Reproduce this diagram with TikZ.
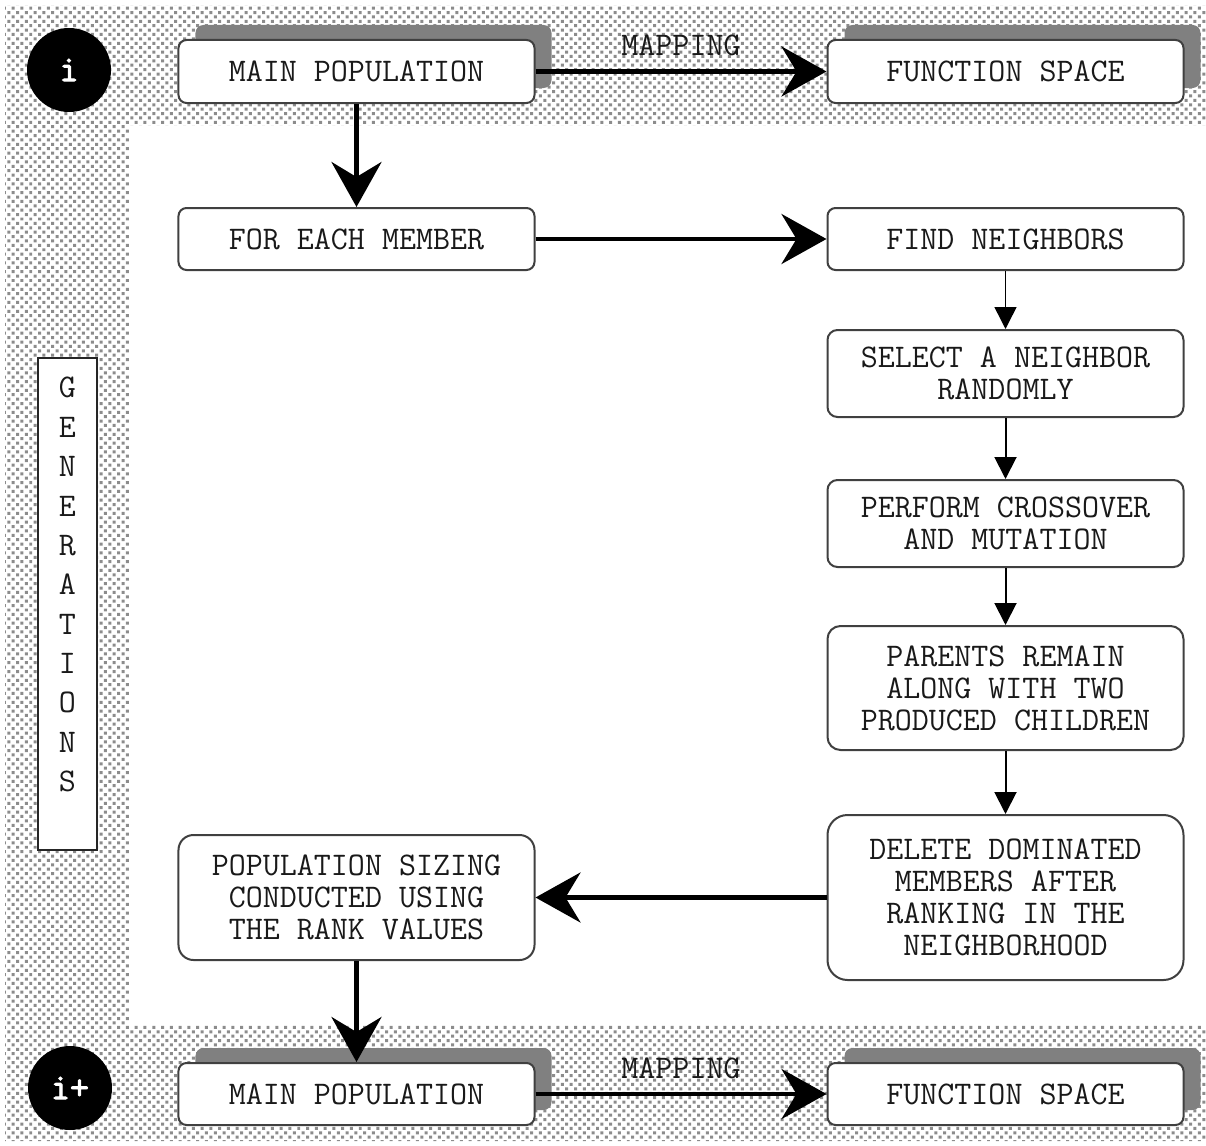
\documentclass[tikz,border=0pt]{standalone}
\usepackage{fontspec}
\usepackage{tikz}
\usetikzlibrary{arrows.meta,patterns,shadows,positioning}
\newcommand\boxfont{\ttfamily}
\newfontfamily\circfont{Latin Modern Mono}[FakeBold=2.5]

\pgfdeclarepatternformonly{gendots}{\pgfqpoint{-1pt}{-1pt}}{\pgfqpoint{4pt}{4pt}}{\pgfqpoint{5pt}{5pt}}{%
  \pgfpathrectangle{\pgfqpoint{-0.85pt}{-0.85pt}}{\pgfqpoint{1.7pt}{1.7pt}}%
  \pgfpathrectangle{\pgfqpoint{1.65pt}{1.65pt}}{\pgfqpoint{1.7pt}{1.7pt}}%
  \pgfusepath{fill}}

\tikzset{
  stage/.style={draw=black!75, line width=0.4mm, fill=white, rounded corners=1.6mm, align=center,
    inner sep=0pt, minimum width=71.2mm, text=black!90, font=\boxfont\fontsize{18.8}{18.2}\selectfont},
  shadowed/.style={drop shadow={shadow xshift=3.4mm, shadow yshift=3mm, fill=black!50, opacity=1}},
  bigflow/.style={line width=0.9mm, -{Stealth[length=9mm, width=10mm, inset=3mm]}},
  thinflow/.style={line width=0.3mm, -{Triangle[length=4.4mm, width=4.4mm]}},
  maplabel/.style={inner sep=0pt, text=black!90, font=\boxfont\fontsize{18.8}{18.2}\selectfont},
  gencircle/.style={circle, fill=black, text=white, minimum size=16.8mm, inner sep=0pt,
    font=\circfont\bfseries\fontsize{21}{20}\selectfont},
  genbox/.style={draw=black!85, line width=0.4mm, fill=white, minimum width=11.8mm, minimum height=98.4mm, inner sep=0pt},
  gentext/.style={align=center, inner sep=0pt, text=black!90, font=\boxfont\fontsize{18.8}{22.4}\selectfont},
}

\begin{document}
\begin{tikzpicture}[x=0.2mm,y=-0.2mm]
  \useasboundingbox (0,0) rectangle (1206,1146);
  % dotted frame round the loop
  \fill[pattern=gendots, pattern color=black!45] (5,5) -| (1206,125) -| (130,1025) -| (1206,1141) -| cycle;

  % generation i
  \node[gencircle] (genA) at (69,70) {i};
  \node[stage, shadowed, minimum height=12.6mm] (popA) at (356.5,71.5) {MAIN POPULATION};
  \node[stage, shadowed, minimum height=12.6mm] (funcA) at (1005.5,71.5) {FUNCTION SPACE};

  % steps
  \node[stage, minimum height=12.4mm] (each) at (356.5,239) {FOR EACH MEMBER};
  \node[stage, minimum height=12.4mm] (nbrs) at (1005.5,239) {FIND NEIGHBORS};
  \node[stage, minimum height=17.4mm, rounded corners=2mm] (pick) at (1005.5,373.5) {SELECT A NEIGHBOR\\RANDOMLY};
  \node[stage, minimum height=17.4mm, rounded corners=2mm] (mix) at (1005.5,523.5) {PERFORM CROSSOVER\\AND MUTATION};
  \node[stage, minimum height=24.8mm, rounded corners=2.6mm] (keep) at (1005.5,688) {PARENTS REMAIN\\ALONG WITH TWO\\PRODUCED CHILDREN};
  \node[stage, minimum height=33mm, rounded corners=4mm] (cull) at (1005.5,897.5) {DELETE DOMINATED\\MEMBERS AFTER\\RANKING IN THE\\NEIGHBORHOOD};
  \node[stage, minimum height=25mm, rounded corners=3mm] (sizing) at (356.5,897.5) {POPULATION SIZING\\CONDUCTED USING\\THE RANK VALUES};

  % generation i+1
  \node[gencircle] (genB) at (70,1088) {i+};
  \node[stage, shadowed, minimum height=12.4mm] (popB) at (356.5,1094) {MAIN POPULATION};
  \node[stage, shadowed, minimum height=12.4mm] (funcB) at (1005.5,1094) {FUNCTION SPACE};

  % generations bar
  \node[genbox] (genframe) at (67.5,604) {};
  \node[gentext, below=4mm of genframe.north] (genword) {G\\E\\N\\E\\R\\A\\T\\I\\O\\N\\S};

  % flow
  \draw[bigflow] (popA) -- node[maplabel, above=2.6mm] (mapA) {MAPPING} (funcA);
  \draw[bigflow] (popA) -- (each);
  \draw[bigflow] (each) -- (nbrs);
  \draw[thinflow] (nbrs) -- (pick);
  \draw[thinflow, line width=0.4mm] (pick) -- (mix);
  \draw[thinflow, line width=0.4mm] (mix) -- (keep);
  \draw[thinflow, line width=0.4mm] (keep) -- (cull);
  \draw[bigflow] (cull) -- (sizing);
  \draw[bigflow] (sizing) -- (popB);
  \draw[bigflow] (popB) -- node[maplabel, above=2.6mm] (mapB) {MAPPING} (funcB);
\end{tikzpicture}
\end{document}
